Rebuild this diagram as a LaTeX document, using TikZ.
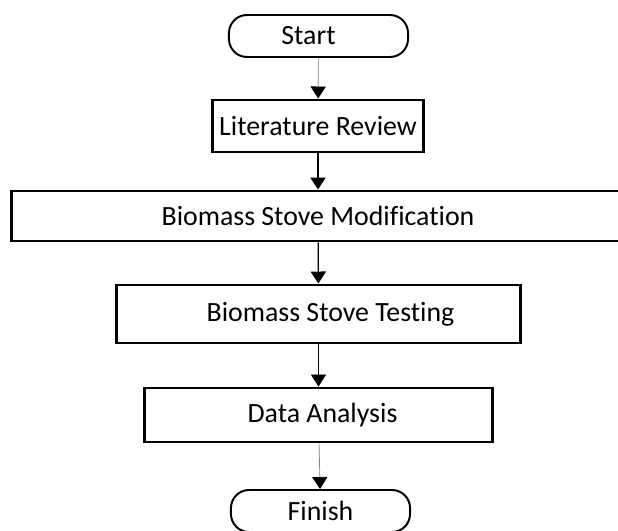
\documentclass[tikz,border=0pt]{standalone}
\usepackage{fontspec}
\setmainfont{Carlito}[Ligatures={NoCommon,NoContextual}]
\usetikzlibrary{arrows.meta}

\tikzset{
    stepbox/.style={draw, line width=2.1pt, inner sep=0pt, font=\fontsize{19.8}{23}\selectfont},
    terminal/.style={draw, line width=1.4pt, rounded corners=0.45cm, inner sep=0pt,
        minimum width=4.475cm, minimum height=1.05cm, font=\fontsize{19.8}{23}\selectfont},
    flow/.style={-{Triangle[width=0.38cm, length=0.3cm, color=black]}, line width=0.9pt},
    flowlight/.style={flow, line width=0.5pt, draw=gray}
}

\begin{document}
\begin{tikzpicture}[x=0.025cm, y=-0.025cm]
    \useasboundingbox (0,0) rectangle (618,531);
    \node[terminal] (start) at (318.5,36) {Start\kern0.5cm};
    \node[stepbox, minimum width=5.25cm, minimum height=1.3cm] (review) at (318,126) {Literature Review};
    \node[stepbox, minimum width=15.3cm, minimum height=1.25cm] (modify) at (318,216) {Biomass Stove Modification};
    \node[stepbox, minimum width=10.075cm, minimum height=1.45cm] (testing) at (318.5,314) {\hspace{0.6cm}Biomass Stove Testing};
    \node[stepbox, minimum width=8.675cm, minimum height=1.35cm] (analysis) at (318.5,415) {\hspace{0.2cm}Data Analysis};
    \node[terminal] (finish) at (320.5,511) {Finish};
    \draw[flowlight] (start) -- (review);
    \draw[flow] (review) -- (modify);
    \draw[flow] (modify) -- (testing);
    \draw[flow, line width=0.6pt] (testing) -- (analysis);
    \draw[flowlight] (analysis) -- (finish);
\end{tikzpicture}
\end{document}
